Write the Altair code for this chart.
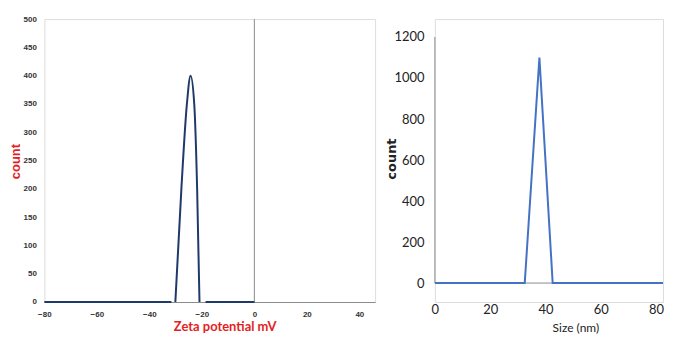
import altair as alt
import pandas as pd

# Left panel: zeta potential distribution
zeta_mv = [-80, -31.6, -30.1, -27.8, -25.7, -24.3, -22.9, -21.8, -20.9, -18.6, 0]
zeta_count = [0, 0, 0, 200, 350, 400, 350, 200, 0, 0, 0]
zeta_seg = ["a", "a", "b", "b", "b", "b", "b", "b", "b", "c", "c"]
zeta_xticks = [-80, -60, -40, -20, 0, 20, 40]
zeta_yticks = [0, 50, 100, 150, 200, 250, 300, 350, 400, 450, 500]

# Right panel: size distribution
size_nm = [0, 32.5, 37.8, 42.6, 82.5]
size_count = [0, 0, 1100, 0, 0]
size_xticks = [0, 20, 40, 60, 80]
size_yticks = [0, 200, 400, 600, 800, 1000, 1200]

zeta_df = pd.DataFrame({"mv": zeta_mv, "count": zeta_count, "seg": zeta_seg})
size_df = pd.DataFrame({"nm": size_nm, "count": size_count})

SANS = "Liberation Sans"
LATO = "Lato"
GRAY = "#8c8c8c"

# ---------- left ----------
lx = alt.Scale(domain=[-80, 46], nice=False, zero=False)
ly = alt.Scale(domain=[0, 500], nice=False)

lx_axis = alt.Axis(values=zeta_xticks, grid=False, ticks=False, domain=True,
                   domainColor=GRAY, domainWidth=1, format="d",
                   labelFlush=False, labelOverlap=False,
                   labelFont=SANS, labelFontWeight="bold", labelFontSize=8,
                   labelColor="#333333", labelPadding=9,
                   title="Zeta potential mV", titleColor="#e31e24",
                   titleFont=LATO, titleFontWeight="bold", titleFontSize=13,
                   titleX=181, titleY=25, titleBaseline="middle", titleAlign="center")
ly_axis = alt.Axis(values=zeta_yticks, grid=False, ticks=False, domain=False,
                   format="d", labelFlush=False, labelOverlap=False,
                   labelFont=SANS, labelFontWeight="bold", labelFontSize=8,
                   labelColor="#333333", labelPadding=8,
                   title="count", titleColor="#e31e24",
                   titleFont=SANS, titleFontWeight="bold", titleFontSize=13,
                   titleAngle=-90, titleX=-29, titleY=142.5,
                   titleBaseline="middle", titleAlign="center")

left_vline = alt.Chart(pd.DataFrame({"mv": [0]})).mark_rule(color=GRAY, strokeWidth=1).encode(
    x=alt.X("mv:Q", scale=lx, axis=lx_axis),
    y=alt.datum(0, scale=ly, axis=ly_axis),
    y2=alt.datum(500),
)

left_line = alt.Chart(zeta_df).mark_line(color="#1f3a68", strokeWidth=2, interpolate="monotone").encode(
    x=alt.X("mv:Q", scale=lx, axis=lx_axis),
    y=alt.Y("count:Q", scale=ly, axis=ly_axis),
    detail="seg:N",
)

left = alt.layer(left_vline, left_line).properties(width=332, height=284)

# ---------- right ----------
rx = alt.Scale(domain=[0, 82.5], nice=False, zero=False)
ry = alt.Scale(domain=[-92.3, 1287.4], nice=False, zero=False)

rx_axis = alt.Axis(values=size_xticks, grid=False, ticks=False, domain=False,
                   format="d", labelFlush=False, labelOverlap=False,
                   labelFont=LATO, labelFontSize=13, labelColor="#222222",
                   labelPadding=2,
                   title="Size (nm)", titleColor="#222222", titleFont=LATO,
                   titleFontWeight="normal", titleFontSize=12,
                   titleX=141, titleY=26, titleBaseline="middle", titleAlign="center")
ry_axis = alt.Axis(values=size_yticks, grid=False, ticks=False, domain=False,
                   format="d", labelFlush=False, labelOverlap=False,
                   labelFont=LATO, labelFontSize=13, labelColor="#222222",
                   labelPadding=11,
                   title="count", titleColor="#222222",
                   titleFont="DejaVu Sans", titleFontWeight="bold", titleFontSize=13,
                   titleAngle=-90, titleX=-44, titleY=140,
                   titleBaseline="middle", titleAlign="center")

right_vline = alt.Chart(pd.DataFrame({"nm": [0]})).mark_rule(color=GRAY, strokeWidth=1).encode(
    x=alt.X("nm:Q", scale=rx, axis=rx_axis),
    y=alt.datum(0, scale=ry, axis=ry_axis),
    y2=alt.datum(1200),
)
right_hline = alt.Chart(pd.DataFrame({"count": [0]})).mark_rule(color=GRAY, strokeWidth=1).encode(
    y=alt.Y("count:Q", scale=ry, axis=ry_axis),
    x=alt.datum(0, scale=rx, axis=rx_axis),
    x2=alt.datum(82.5),
)

right_line = alt.Chart(size_df).mark_line(color="#4472c4", strokeWidth=2, clip=True).encode(
    x=alt.X("nm:Q", scale=rx, axis=rx_axis),
    y=alt.Y("count:Q", scale=ry, axis=ry_axis),
)

right = alt.layer(right_vline, right_hline, right_line).properties(width=229, height=284)

chart = alt.hconcat(left, right, spacing=60, bounds="flush").properties(
    padding={"left": 0.5, "top": 5.5, "right": 0, "bottom": 0}
).configure_view(stroke=None).configure(background="white")

chart.save("out.html", embed_options={"renderer": "svg", "actions": False})
